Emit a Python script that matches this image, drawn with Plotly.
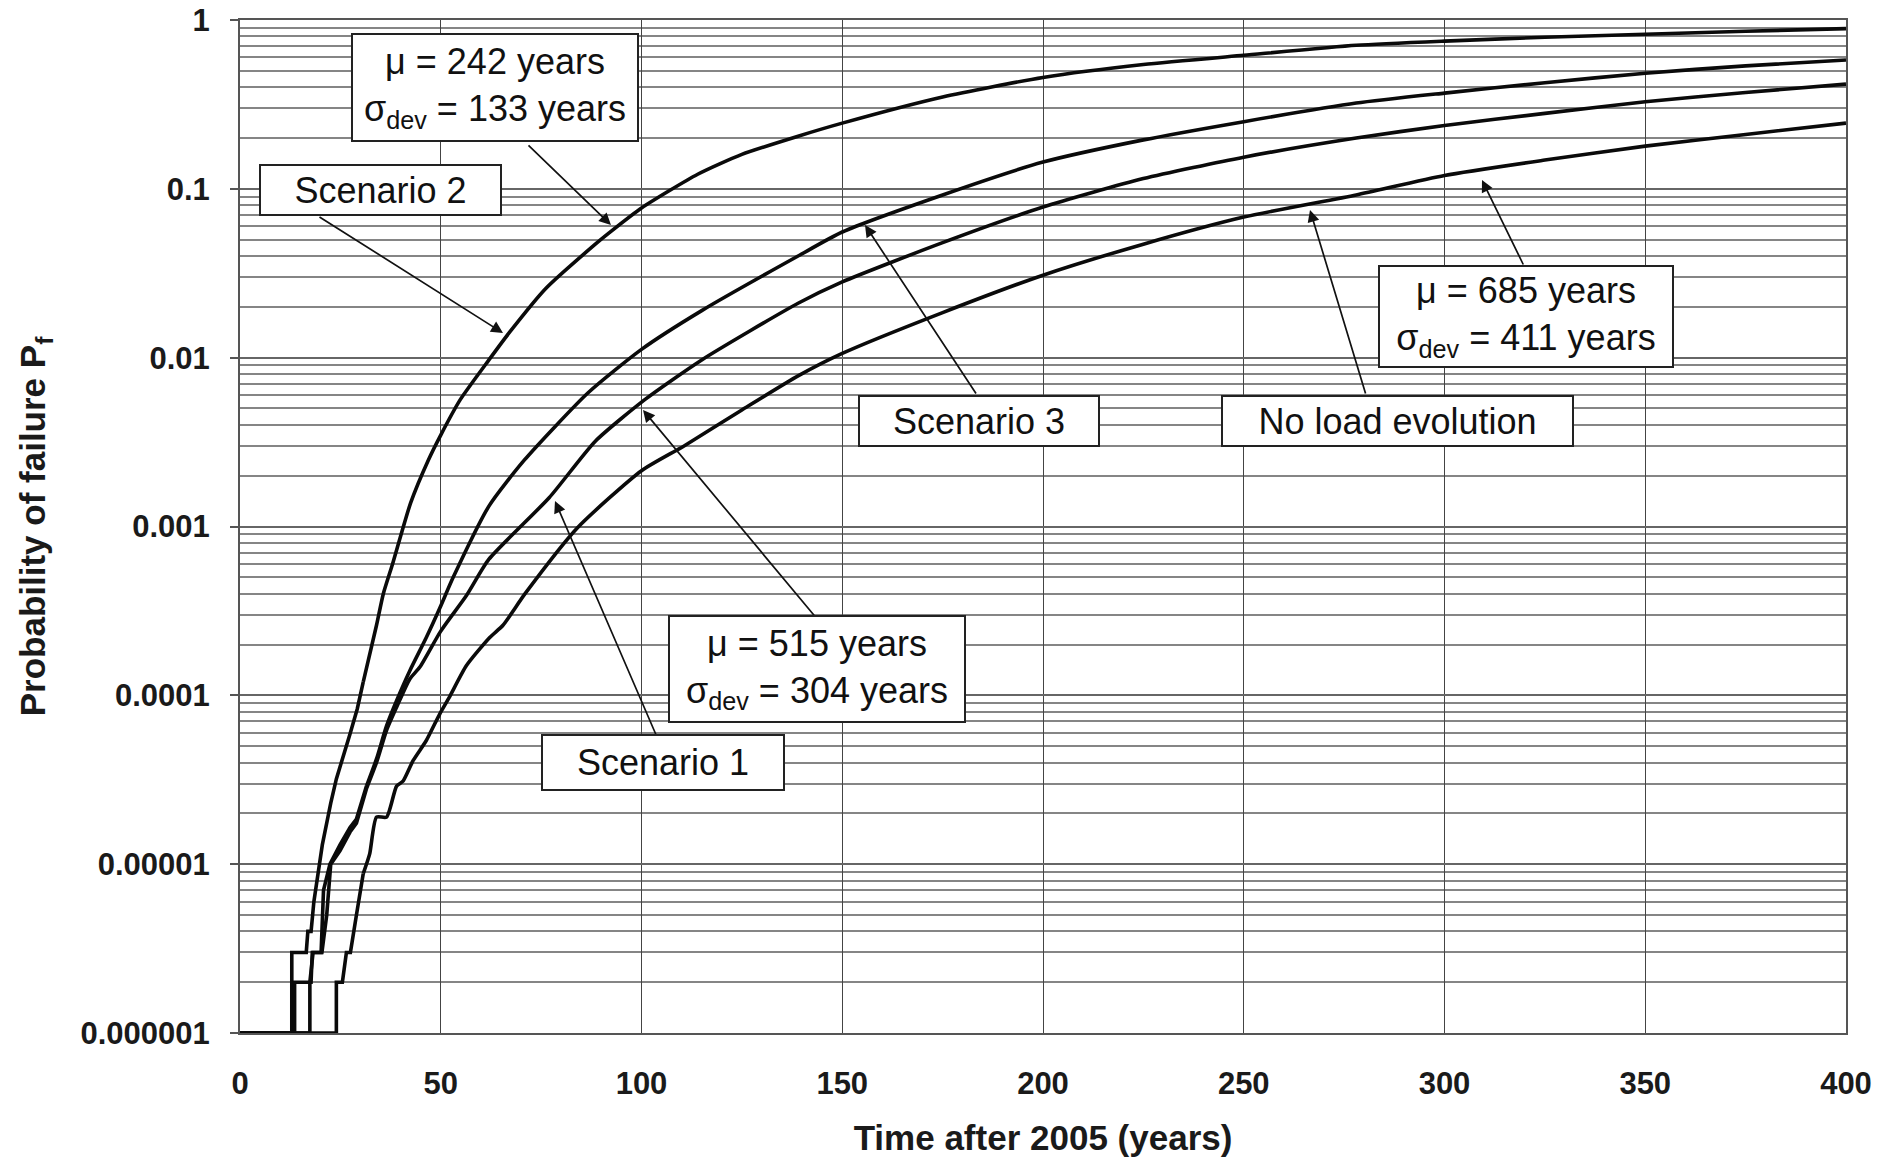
import plotly.graph_objects as go

# ---------------- data ----------------
scenario2_t = [0, 12.9, 12.9, 16.5, 16.9, 17.7, 18.4, 19.7, 20.5, 22.6, 24.0, 27.4, 29.2, 30.7, 34.0,
               35.7, 38.0, 42.5, 46.9, 50.0, 54.9, 62.0, 67.3, 76.1, 88.5, 92.0, 100, 114, 125, 139,
               150, 175, 200, 225, 250, 278, 300, 325, 350, 375, 400]
scenario2_p = [1e-6, 1e-6, 3e-6, 3e-6, 4e-6, 4e-6, 6e-6, 1.0e-5, 1.3e-5, 2.3e-5, 3.2e-5, 5.9e-5, 8.3e-5,
               1.2e-4, 2.6e-4, 4.0e-4, 6.0e-4, 1.38e-3, 2.47e-3, 3.48e-3, 5.66e-3, 9.7e-3, 1.43e-2,
               2.56e-2, 4.7e-2, 5.5e-2, 7.7e-2, 0.122, 0.16, 0.205, 0.245, 0.35, 0.457, 0.545, 0.618,
               0.708, 0.75, 0.79, 0.823, 0.858, 0.889]

scenario3_t = [0, 13.6, 13.6, 17.7, 18.0, 20.2, 20.8, 22.4, 24.9, 27.4, 29.0, 31.5, 34.0, 36.5, 39.0,
               42.3, 46.4, 49.8, 53.1, 62.0, 70.8, 86.7, 100, 115, 139, 150, 175, 200, 225, 250, 278,
               300, 325, 350, 375, 400]
scenario3_p = [1e-6, 1e-6, 2e-6, 2e-6, 3e-6, 3e-6, 7e-6, 1.0e-5, 1.3e-5, 1.65e-5, 1.85e-5, 2.9e-5,
               4.2e-5, 6.6e-5, 9.3e-5, 1.4e-4, 2.2e-4, 3.3e-4, 5.0e-4, 1.32e-3, 2.47e-3, 6.2e-3,
               1.12e-2, 1.9e-2, 4.0e-2, 5.55e-2, 0.092, 0.144, 0.195, 0.25, 0.322, 0.369, 0.425,
               0.484, 0.535, 0.58]

scenario1_t = [0, 17.4, 17.4, 18.2, 20.4, 21.6, 22.6, 24.9, 27.4, 29.0, 31.5, 34.0, 36.5, 39.0, 42.3,
               44.8, 50.0, 56.4, 62.0, 77.0, 88.5, 100.9, 115, 139, 150, 175, 200, 225, 250, 278,
               300, 325, 350, 375, 400]
scenario1_p = [1e-6, 1e-6, 2e-6, 3e-6, 3e-6, 5e-6, 1.0e-5, 1.2e-5, 1.55e-5, 1.75e-5, 2.8e-5, 4.0e-5,
               6.2e-5, 8.5e-5, 1.25e-4, 1.47e-4, 2.4e-4, 3.9e-4, 6.4e-4, 1.48e-3, 3.2e-3, 5.66e-3,
               9.7e-3, 2.1e-2, 2.81e-2, 0.048, 0.078, 0.115, 0.154, 0.20, 0.237, 0.28, 0.328, 0.372,
               0.417]

noload_t = [0, 24.0, 24.0, 25.5, 26.5, 27.5, 29.0, 30.7, 32.3, 34.0, 36.5, 39.0, 40.6, 43.1, 46.4,
            49.8, 52.2, 56.4, 62.2, 65.5, 71.0, 84.0, 100, 110.6, 125, 139, 150, 175, 200, 225, 250,
            278, 300, 325, 350, 375, 400]
noload_p = [1e-6, 1e-6, 2e-6, 2e-6, 3e-6, 3e-6, 5e-6, 8.8e-6, 1.15e-5, 1.9e-5, 1.9e-5, 2.9e-5, 3.1e-5,
            4.1e-5, 5.4e-5, 7.8e-5, 9.8e-5, 1.5e-4, 2.2e-4, 2.6e-4, 4.0e-4, 9.8e-4, 2.14e-3, 3.0e-3,
            4.9e-3, 7.8e-3, 0.0106, 0.0185, 0.0308, 0.047, 0.068, 0.092, 0.12, 0.148, 0.179, 0.21,
            0.245]

y_tickvals = [1e-6, 1e-5, 1e-4, 1e-3, 1e-2, 1e-1, 1]
y_ticktext = ["0.000001", "0.00001", "0.0001", "0.001", "0.01", "0.1", "1"]
x_tickvals = [0, 50, 100, 150, 200, 250, 300, 350, 400]

# ---------------- layout geometry ----------------
W, H = 1879, 1157
L, R, T, B = 240, 1846, 20, 1033


def to_xpaper(px):
    return (px - L) / (R - L)


def to_ypaper(py):
    return (B - py) / (B - T)


def to_xdata(px):
    return (px - L) / (R - L) * 400


def to_logy(py):
    return -6 * (py - T) / (B - T)


fig = go.Figure()
STEP_END = 30  # years: Monte-Carlo steps drawn straight, the rest smoothed
for t, p in [(scenario2_t, scenario2_p), (scenario3_t, scenario3_p),
             (scenario1_t, scenario1_p), (noload_t, noload_p)]:
    k = next(i for i, v in enumerate(t) if v >= STEP_END)
    fig.add_trace(go.Scatter(x=t[:k + 1], y=p[:k + 1], mode="lines",
                             line=dict(color="#0a0a0a", width=3.6), showlegend=False))
    fig.add_trace(go.Scatter(x=t[k:], y=p[k:], mode="lines",
                             line=dict(color="#0a0a0a", width=3.6, shape="spline", smoothing=0.6),
                             showlegend=False))

minor_vals = [k * 10.0 ** e for e in range(-6, 0) for k in range(2, 10)]

axis_font = dict(family="Liberation Sans, Arial, sans-serif", size=31, color="#1a1a1a", weight="bold")
title_font = dict(family="Liberation Sans, Arial, sans-serif", size=35, color="#1a1a1a", weight="bold")

fig.update_xaxes(range=[0, 400], tickvals=x_tickvals, showgrid=True, gridcolor="#444444",
                 gridwidth=1.2, showline=True, linecolor="#555555", linewidth=2, mirror=True,
                 ticks="", tickfont=axis_font, ticklabelstandoff=22, zeroline=False,
                 automargin=False,
                 title=dict(text="Time after 2005 (years)", font=title_font, standoff=30))
fig.update_yaxes(type="log", range=[-6, 0], tickvals=y_tickvals, ticktext=y_ticktext,
                 showgrid=True, gridcolor="#666666", gridwidth=2,
                 minor=dict(tickvals=minor_vals, showgrid=True, gridcolor="#858585",
                            gridwidth=1.8, ticks=""),
                 showline=True, linecolor="#555555", linewidth=2, mirror=True,
                 ticks="outside", ticklen=8, tickcolor="#555555", tickwidth=2,
                 tickfont=axis_font, ticklabelstandoff=14, automargin=False,
                 title=dict(text="Probability of failure P<sub>f</sub>", font=title_font,
                            standoff=24))

annotations = []
# arrows: head (px, py) and tail (px, py) in page pixels, head placed in data space
arrows = [
    ((611, 225), (527, 144)),   # mu = 242
    ((503, 333), (318, 216)),   # Scenario 2
    ((865, 225), (977, 395)),   # Scenario 3
    ((1310, 210), (1366, 395)),  # No load evolution
    ((1482, 180), (1524, 266)),  # mu = 685
    ((643, 410), (818, 620)),   # mu = 515
    ((555, 501), (657, 737)),   # Scenario 1
]
for (hx, hy), (tx, ty) in arrows:
    annotations.append(dict(x=to_xdata(hx), y=to_logy(hy), xref="x", yref="y", text="",
                            showarrow=True, arrowhead=2, arrowsize=1.4, arrowwidth=1.7,
                            arrowcolor="#111111", ax=tx - hx, ay=ty - hy, standoff=0))

box_font = dict(family="Liberation Sans, Arial, sans-serif", size=36, color="#111111")
boxes = [
    ("μ = 242 years<br>σ<sub>dev</sub> = 133 years", (495, 87), 288, 109),
    ("Scenario 2", (380, 190), 243, 52),
    ("Scenario 3", (979, 421), 242, 52),
    ("No load evolution", (1397, 421), 353, 52),
    ("μ = 685 years<br>σ<sub>dev</sub> = 411 years", (1526, 317), 296, 103),
    ("μ = 515 years<br>σ<sub>dev</sub> = 304 years", (817, 669), 298, 108),
    ("Scenario 1", (663, 762), 244, 57),
]
for text, (cx, cy), w, h in boxes:
    annotations.append(dict(x=to_xpaper(cx), y=to_ypaper(cy), xref="paper", yref="paper",
                            text=text, showarrow=False, xanchor="center", yanchor="middle",
                            width=w - 4, height=h - 4, align="center", valign="middle",
                            bordercolor="#222222", borderwidth=2, borderpad=0,
                            bgcolor="white", font=box_font))

fig.update_layout(width=W, height=H, margin=dict(l=L, r=W - R, t=T, b=H - B),
                  paper_bgcolor="white", plot_bgcolor="white", annotations=annotations,
                  showlegend=False)

fig.write_html("out.html")
